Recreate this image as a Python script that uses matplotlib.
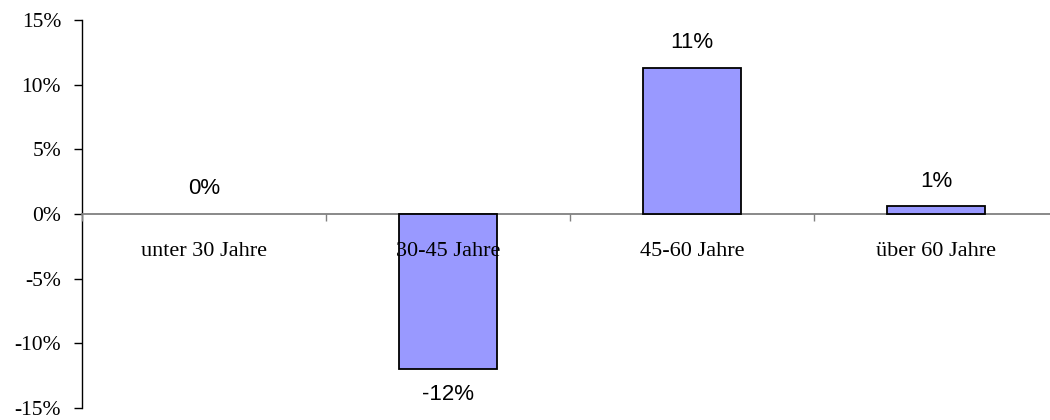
import numpy as np
import matplotlib as mpl

mpl.use('Agg')

import matplotlib.pyplot as plt
from matplotlib.ticker import FixedLocator, FuncFormatter

# change per age group, in percent
categories = ['unter 30 Jahre', '30-45 Jahre', '45-60 Jahre', 'über 60 Jahre']
values = [0.0, -12.0, 11.3, 0.6]
y_ticks = [-15, -10, -5, 0, 5, 10, 15]

bar_color = '#9999ff'
serif = 'Liberation Serif'
sans = 'Liberation Sans'

fig = plt.figure(figsize=(10.5, 4.2), dpi=100)
# axes runs a bit past the right edge of the figure, as in the original export
ax = fig.add_axes([82 / 1050, 12 / 420, 976 / 1050, 388 / 420])

x = np.arange(len(categories))
# empty bars get no outline
edges = [0 if v == 0 else 1.3 for v in values]
ax.bar(x, values, width=0.405, color=bar_color, edgecolor='black',
       linewidth=edges, zorder=3)

for xi, v in zip(x, values):
    offset = 25 if v >= 0 else -25
    ax.annotate('{:.0f}%'.format(v), (xi, v), xytext=(0, offset),
                textcoords='offset pixels', ha='center', va='center',
                fontsize=16, family=sans)

ax.set_xlim(-0.5, len(categories) - 0.5)
ax.set_ylim(-15, 15)

# y axis
ax.set_yticks(y_ticks)
ax.yaxis.set_major_formatter(FuncFormatter(lambda v, p: '{:.0f}%'.format(v)))
ax.tick_params(axis='y', direction='out', length=6, width=1, pad=9,
               labelsize=15.5, colors='black')
for lab in ax.get_yticklabels():
    lab.set_family(serif)

# x axis sits at zero, ticks between categories, labels at centers
ax.spines['bottom'].set_position(('data', 0))
ax.spines['bottom'].set_color('#808080')
ax.spines['bottom'].set_linewidth(1.3)
ax.spines['top'].set_visible(False)
ax.spines['right'].set_visible(False)
ax.spines['left'].set_linewidth(1)

ax.xaxis.set_major_locator(FixedLocator(np.arange(len(categories) + 1) - 0.5))
ax.xaxis.set_major_formatter(FuncFormatter(lambda v, p: ''))
ax.xaxis.set_minor_locator(FixedLocator(x))
ax.set_xticklabels(categories, minor=True)
ax.tick_params(axis='x', which='major', direction='out', length=5,
               color='#808080', width=1)
ax.tick_params(axis='x', which='minor', length=0, pad=20, labelsize=16)
for lab in ax.get_xticklabels(minor=True):
    lab.set_family(serif)
# category labels are drawn over the bars
ax.xaxis.set_zorder(4)

plt.savefig('out.png', dpi=100)
